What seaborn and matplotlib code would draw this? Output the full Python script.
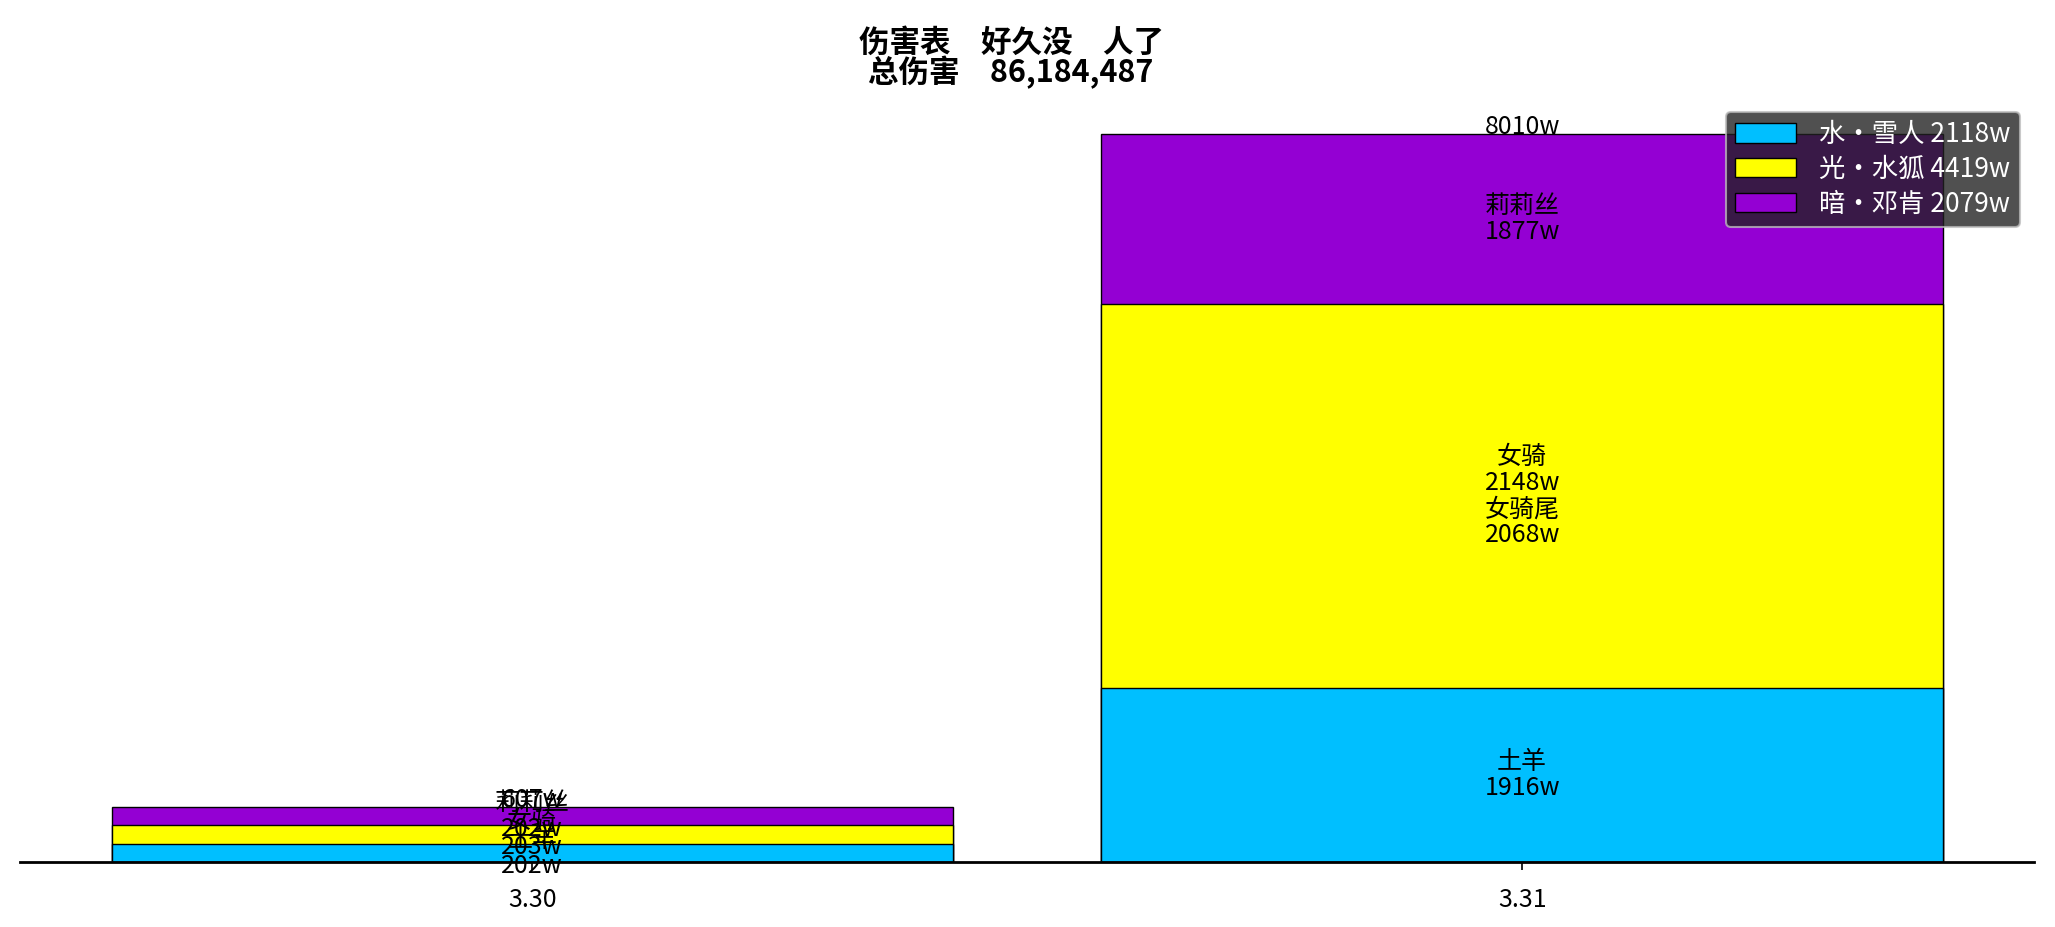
import pandas as pd
import numpy as np
import matplotlib
matplotlib.use('Agg')
import matplotlib.pyplot as plt
from matplotlib.patches import Patch
import seaborn as sns

# ==========================================
# DATA (unit: w = 10,000 damage)
# ==========================================
dates = ['3.30', '3.31']

water_names = ['土羊', '土羊']
water_values = [202.1, 1916.3]

light_names = [['女骑'], ['女骑', '女骑尾']]
light_values = [[203.1], [2148.2, 2068.1]]

dark_names = ['莉莉丝', '莉莉丝']
dark_values = [202.1, 1877.3]

team_names = ['水・雪人', '光・水狐', '暗・邓肯']
team_colors = ['#00BFFF', '#FFFF00', '#9400D3']

total_damage = 86184487
title_line = '伤害表　好久没　人了'


def main():
    sns.set_style('white')
    plt.rcParams['font.family'] = ['Noto Sans CJK SC', 'DejaVu Sans']
    plt.rcParams['text.color'] = 'black'

    water = np.array(water_values)
    light = np.array([sum(v) for v in light_values])
    dark = np.array(dark_values)
    totals = water + light + dark

    df = pd.DataFrame({
        'date': dates,
        'water': water,
        'water_light': water + light,
        'all': totals,
    })

    fig, ax = plt.subplots(figsize=(20.55, 9.27), dpi=100)
    fig.subplots_adjust(left=0.0097, right=0.990, bottom=0.070, top=0.895)

    # stacked bars: draw cumulative heights from the top layer down
    for col, color in zip(['all', 'water_light', 'water'], team_colors[::-1]):
        sns.barplot(data=df, x='date', y=col, color=color, saturation=1,
                    width=0.85, edgecolor='black', linewidth=1,
                    errorbar=None, ax=ax)

    lab_kw = dict(ha='center', va='center', fontsize=18, linespacing=1.0,
                  color='black')
    for i in range(len(dates)):
        ax.text(i, water[i] / 2, f'{water_names[i]}\n{water_values[i]:.0f}w', **lab_kw)
        parts = []
        for n, v in zip(light_names[i], light_values[i]):
            parts += [n, f'{v:.0f}w']
        ax.text(i, water[i] + light[i] / 2, '\n'.join(parts), **lab_kw)
        ax.text(i, water[i] + light[i] + dark[i] / 2,
                f'{dark_names[i]}\n{dark_values[i]:.0f}w', **lab_kw)
        ax.text(i, totals[i], f'{totals[i]:.0f}w', ha='center', va='baseline',
                fontsize=18, color='black')

    ax.set_xlim(-0.5175, 1.5175)
    ax.set_ylim(0, totals.max() * 1.05)
    ax.set_xlabel('')
    ax.set_ylabel('')
    ax.set_yticks([])
    sns.despine(ax=ax, left=True, right=True, top=True)
    ax.spines['bottom'].set_linewidth(2)
    ax.spines['bottom'].set_color('black')
    ax.tick_params(axis='x', bottom=True, length=6, width=1.2, labelsize=18,
                   pad=12, colors='black')

    team_sums = [water.sum(), light.sum(), dark.sum()]
    handles = [Patch(facecolor=c, edgecolor='black', linewidth=1) for c in team_colors]
    labels = [f'{n} {s:.0f}w' for n, s in zip(team_names, team_sums)]
    leg = ax.legend(handles, labels, loc='upper right', fontsize=19,
                    facecolor='#212121', framealpha=0.79, edgecolor='#bbbbbb',
                    labelcolor='white', handlelength=2.3, handleheight=0.75,
                    labelspacing=0.3, borderaxespad=0.55, borderpad=0.35,
                    handletextpad=0.9)
    leg.get_frame().set_linewidth(1.5)

    fig.text(0.492, 1 - 58 / 927, f'{title_line}\n总伤害　{total_damage:,}',
             ha='center', va='center', fontsize=22, fontweight='bold',
             linespacing=0.92)

    fig.savefig('out.png', dpi=100)


if __name__ == '__main__':
    main()
